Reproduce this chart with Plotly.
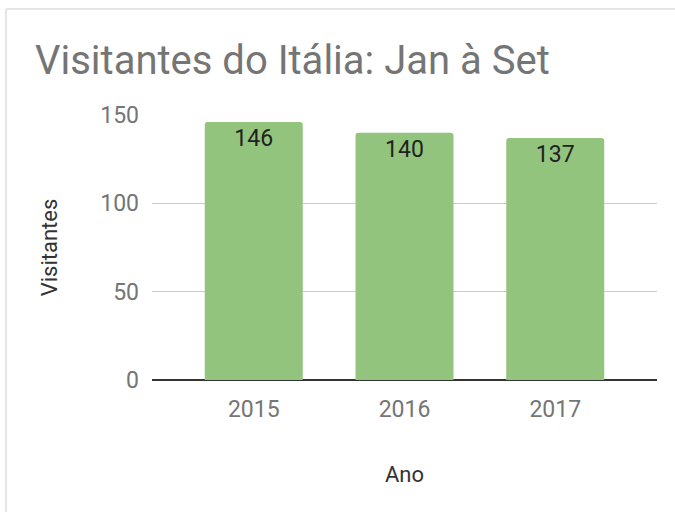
import plotly.graph_objects as go

years = ["2015", "2016", "2017"]
visitors = [146, 140, 137]
y_ticks = [0, 50, 100, 150]

W, H = 675, 512
L, R, T, B = 152, 18, 115, 132

fig = go.Figure()
fig.add_trace(go.Bar(
    x=years, y=visitors,
    width=0.65,
    marker=dict(color="#93c47d", line=dict(width=0), cornerradius=3),
    text=[str(v) for v in visitors],
    textposition="inside", insidetextanchor="end", textangle=0,
    constraintext="none",
    textfont=dict(family="Roboto", size=23, color="#222222"),
    hoverinfo="skip",
))

pw = W - L - R
ph = H - T - B
fig.add_shape(type="rect", xref="paper", yref="paper",
              x0=(6 - L) / pw, x1=(W + 20 - L) / pw,
              y0=-(H + 20 - (H - B)) / ph, y1=((H - B) - 9) / ph,
              line=dict(color="#cccccc", width=1), fillcolor="rgba(0,0,0,0)", layer="below")

fig.update_layout(
    width=W, height=H,
    margin=dict(l=L, r=R, t=T, b=B, pad=0),
    paper_bgcolor="white", plot_bgcolor="white",
    showlegend=False,
    title=dict(text="Visitantes do Itália: Jan à Set", x=35 / W, xanchor="left", xref="container",
               y=1 - 60 / H, yanchor="middle", yref="container",
               font=dict(family="Roboto", size=40, color="#757575")),
    xaxis=dict(range=[-0.675, 2.675], type="category", showgrid=False, ticks="",
               tickfont=dict(family="Roboto", size=23, color="#757575"),
               ticklabelstandoff=13,
               title=dict(text="Ano", font=dict(family="Roboto", size=22, color="#333333"), standoff=44)),
    yaxis=dict(range=[0, 150], tickvals=y_ticks, showgrid=True, gridcolor="#cccccc", gridwidth=1,
               zeroline=True, zerolinecolor="#333333", zerolinewidth=1.5,
               tickfont=dict(family="Roboto", size=23, color="#757575"),
               ticklabelstandoff=12, ticks="",
               title=dict(text="Visitantes", font=dict(family="Roboto", size=22, color="#333333"), standoff=36)),
)

fig.write_html("out.html", config={"displayModeBar": False},
               post_script="document.body.style.margin='0';")
